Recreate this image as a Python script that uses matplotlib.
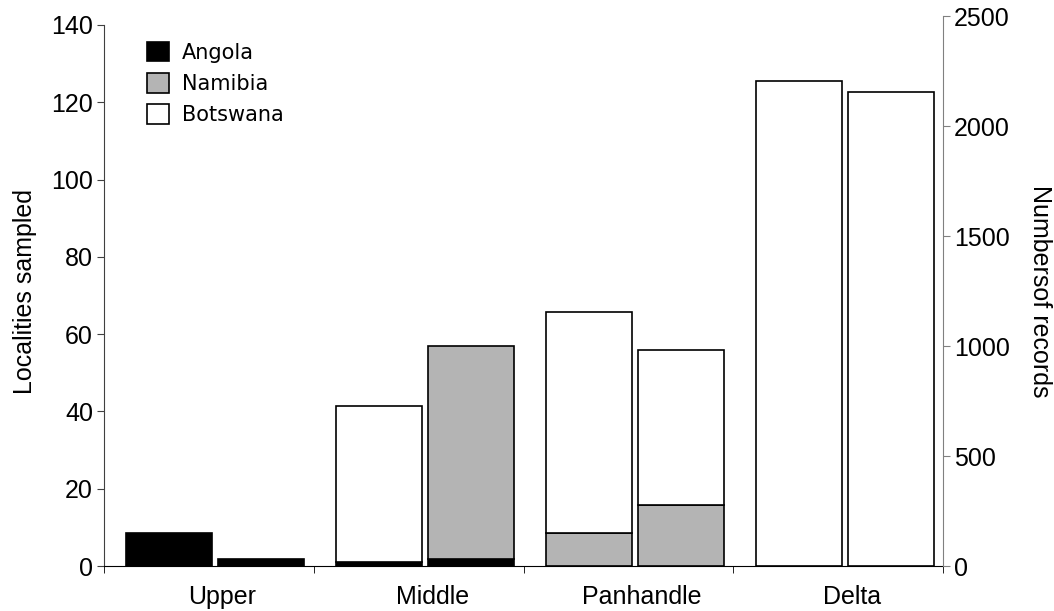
from __future__ import annotations

import matplotlib

matplotlib.use("Agg")
import matplotlib.pyplot as plt
import numpy as np
from matplotlib.patches import Patch


REGIONS = ["Upper", "Middle", "Panhandle", "Delta"]
COUNTRIES = ["Angola", "Namibia", "Botswana"]

# left bar of each pair: localities sampled (left axis)
LOC_ANGOLA = [8.5, 1.0, 0.0, 0.0]
LOC_NAMIBIA = [0.0, 0.0, 8.5, 0.0]
LOC_BOTSWANA = [0.0, 40.4, 57.2, 125.6]

# right bar of each pair: number of records (right axis)
REC_ANGOLA = [32, 32, 0, 0]
REC_NAMIBIA = [0, 968, 277, 0]
REC_BOTSWANA = [0, 0, 705, 2155]

LEFT_TICKS = [0, 20, 40, 60, 80, 100, 120, 140]
RIGHT_TICKS = [0, 500, 1000, 1500, 2000, 2500]

FILLS = {"Angola": "#000000", "Namibia": "#b4b4b4", "Botswana": "#ffffff"}
ARIAL = ["Liberation Sans", "DejaVu Sans"]


def _stack(ax, x, parts, width):
    bottom = np.zeros(len(x))
    for name, values in zip(COUNTRIES, parts):
        values = np.asarray(values, dtype=float)
        mask = values > 0
        ax.bar(x[mask], values[mask], width=width, bottom=bottom[mask],
               color=FILLS[name], edgecolor="black", linewidth=1.2, zorder=3)
        bottom = bottom + values


def main() -> None:
    fig = plt.figure(figsize=(10.54, 6.11), dpi=100)
    ax = fig.add_axes([104 / 1054, 45 / 611, 839 / 1054, 550 / 611])
    ax2 = ax.twinx()

    x = np.arange(len(REGIONS))
    width = 0.41
    _stack(ax, x - 0.188, [LOC_ANGOLA, LOC_NAMIBIA, LOC_BOTSWANA], width)
    _stack(ax2, x + 0.25, [REC_ANGOLA, REC_NAMIBIA, REC_BOTSWANA], width)

    ax.set_xlim(-0.5, len(REGIONS) - 0.5)
    ax.set_ylim(0, 140 * 550 / 541)
    ax2.set_ylim(0, 2500)

    ax.set_yticks(LEFT_TICKS)
    ax.set_yticklabels([str(t) for t in LEFT_TICKS], family=ARIAL, fontsize=18)
    ax2.set_yticks(RIGHT_TICKS)
    ax2.set_yticklabels([str(t) for t in RIGHT_TICKS], family=ARIAL, fontsize=18)

    ax.set_xticks(x + 0.065)
    ax.set_xticklabels(REGIONS, family=ARIAL, fontsize=18)
    ax.set_xticks(np.arange(len(REGIONS) + 1) - 0.5, minor=True)
    ax.tick_params(axis="x", which="major", length=0, pad=14)
    ax.tick_params(axis="x", which="minor", length=5, direction="out", color="black")
    ax.tick_params(axis="y", length=5, direction="out", color="#404040", pad=3)
    ax2.tick_params(axis="y", length=5, direction="out", color="#808080", pad=3)

    for a in (ax, ax2):
        a.spines["top"].set_visible(False)
    ax.spines["right"].set_visible(False)
    ax2.spines["left"].set_visible(False)
    ax2.spines["bottom"].set_visible(False)
    ax.spines["left"].set_bounds(0, 140)
    ax.spines["left"].set_color("#404040")
    ax2.spines["right"].set_color("#808080")
    ax.spines["bottom"].set_color("black")
    ax.spines["bottom"].set_zorder(5)

    ax.set_ylabel("Localities sampled", family=ARIAL, fontsize=18, labelpad=10)
    ax2.set_ylabel("Numbersof records", family=ARIAL, fontsize=18, rotation=270,
                   labelpad=30)

    handles = [Patch(facecolor=FILLS[c], edgecolor="black", linewidth=1.2) for c in COUNTRIES]
    fig.legend(handles, COUNTRIES, loc="upper left", bbox_to_anchor=(147 / 1054, 1 - 42 / 611),
               frameon=False, prop={"family": "DejaVu Sans", "size": 15},
               handlelength=1.06, handleheight=1.06, handletextpad=0.6,
               labelspacing=0.5, borderpad=0, borderaxespad=0)

    fig.savefig("out.png", dpi=100)
    plt.close(fig)


if __name__ == "__main__":
    main()
